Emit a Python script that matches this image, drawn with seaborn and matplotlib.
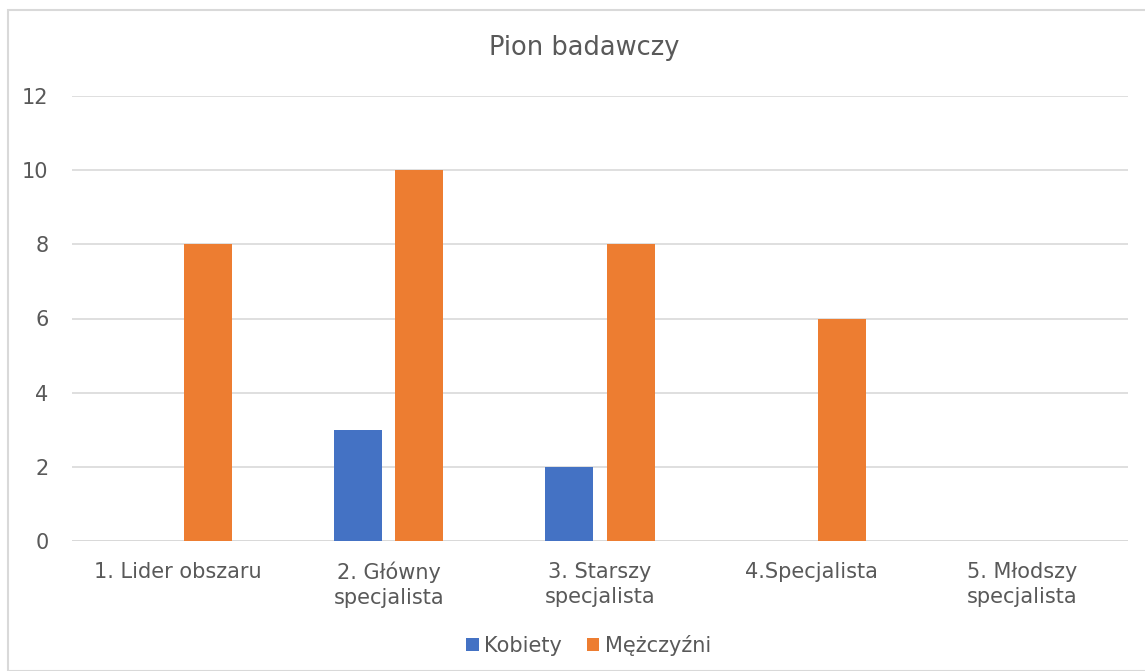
import matplotlib
matplotlib.use("Agg")
import matplotlib.pyplot as plt
import seaborn as sns
import pandas as pd
from matplotlib.patches import Rectangle

categories = ["1. Lider obszaru", "2. Główny\nspecjalista", "3. Starszy\nspecjalista",
              "4.Specjalista", "5. Młodszy\nspecjalista"]
kobiety = [0, 3, 2, 0, 0]
mezczyzni = [8, 10, 8, 6, 0]
series_names = ["Kobiety", "Mężczyźni"]
colors = ["#4472C4", "#ED7D31"]
yticks = [0, 2, 4, 6, 8, 10, 12]

df = pd.DataFrame({
    "kategoria": categories * 2,
    "wartosc": kobiety + mezczyzni,
    "seria": [series_names[0]] * len(categories) + [series_names[1]] * len(categories),
})

sns.set_theme(style="white")
plt.rcParams['font.family'] = ['DejaVu Sans']

fig = plt.figure(figsize=(11.45, 6.71), dpi=100)
ax = fig.add_axes([72/1145, 130/671, (1128-72)/1145, (541-96)/671])

sns.barplot(data=df, x="kategoria", y="wartosc", hue="seria", palette=colors,
            width=0.578, gap=0.213, linewidth=0, saturation=1, ax=ax, legend=True)

ax.set_ylim(0, 12)
ax.set_xlim(-0.5, 4.5)
ax.set_yticks(yticks)
ax.yaxis.grid(True, color="#D9D9D9", linewidth=1.2)
ax.set_axisbelow(True)
for s in ax.spines.values():
    s.set_visible(False)
ax.axhline(0, color="#D9D9D9", linewidth=1.4, zorder=0.5)
ax.set_xlabel("")
ax.set_ylabel("")
ax.tick_params(axis="both", length=0, colors="#595959", labelsize=15)
ax.tick_params(axis="y", pad=17)
ax.tick_params(axis="x", pad=15)
for lbl in ax.get_xticklabels():
    lbl.set_linespacing(1.3)

fig.text(0.51, 1 - 48/671, "Pion badawczy", ha="center", va="center",
         fontsize=18.5, color="#595959")

handles, labels = ax.get_legend_handles_labels()
ax.get_legend().remove()
leg = fig.legend(handles, labels, loc="center", bbox_to_anchor=(0.514, 1 - 645/671),
                 ncol=2, frameon=False, fontsize=15, handlelength=0.6,
                 handleheight=0.6, handletextpad=0.25, columnspacing=1.2)
for t in leg.get_texts():
    t.set_color("#595959")

fig.patches.append(Rectangle((8/1145, 0), 1.0, 1 - 10/671, transform=fig.transFigure,
                             fill=False, edgecolor="#D9D9D9", linewidth=1.5))

fig.savefig("out.png", dpi=100)
